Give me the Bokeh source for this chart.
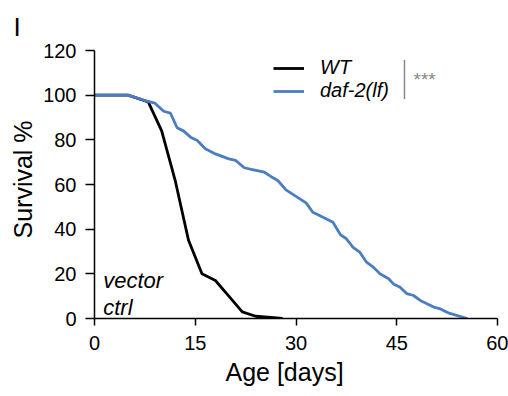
from bokeh.plotting import figure
from bokeh.models import Range1d, FixedTicker, Legend, LegendItem, Label, Title
from bokeh.embed import file_html
from bokeh.resources import INLINE

# ---- data ----
wt_days = [0, 5, 8, 10, 12, 14, 16, 18, 20, 22, 24, 28]
wt_surv = [100, 100, 97, 84, 62, 35, 20, 17, 10, 3, 1, 0]

daf_days = [0, 5, 7.5, 9, 10.3, 11.3, 12.3, 13.3, 14.3, 15.3, 16.5, 18, 20, 21,
            22.3, 23.5, 25.3, 26.3, 27.3, 28.5, 30, 31.5, 32.5, 33.5, 35.5, 36.6,
            37.5, 38.5, 39.5, 40.5, 41.5, 42.5, 43.8, 44.5, 45.5, 46.5, 47.5,
            48.5, 50.5, 51.5, 52.8, 55.5]
daf_surv = [100, 100, 97.6, 96.4, 92.8, 92, 85.4, 83.9, 81.2, 79.7, 76, 73.7,
            71.5, 70.8, 67.5, 66.7, 65.5, 63.5, 61.8, 57.6, 54.7, 51.8, 47.6,
            46.1, 43.1, 37.6, 35.7, 31.9, 29.7, 25.2, 23, 20, 17.8, 15.5, 14,
            11.1, 10.3, 8.1, 5.1, 4.3, 2.4, 0]

x_ticks = [0, 15, 30, 45, 60]
y_ticks = [0, 20, 40, 60, 80, 100, 120]
series_names = ["WT", "daf-2(lf)"]
series_colors = ["#000000", "#4A7EC0"]
FONT = "Liberation Sans"

p = figure(width=508, height=396, output_backend="svg", toolbar_location=None,
           x_range=Range1d(0, 60), y_range=Range1d(0, 120),
           min_border_left=94, min_border_right=11, min_border_top=50,
           min_border_bottom=78)
p.outline_line_color = None
p.xgrid.visible = False
p.ygrid.visible = False
p.background_fill_color = "white"
p.border_fill_color = "white"

for ax in (p.xaxis[0], p.yaxis[0]):
    ax.axis_line_width = 1.5
    ax.axis_line_color = "black"
    ax.major_tick_line_width = 1.5
    ax.major_tick_line_color = "black"
    ax.minor_tick_line_color = None
    ax.major_tick_in = 0
    ax.major_label_text_font = FONT
    ax.major_label_text_font_size = "20px"
    ax.major_label_text_color = "black"

p.xaxis.ticker = FixedTicker(ticks=x_ticks)
p.yaxis.ticker = FixedTicker(ticks=y_ticks)
p.xaxis.major_tick_out = 7
p.yaxis.major_tick_out = 9
p.xaxis.major_label_standoff = 10
p.yaxis.major_label_standoff = 9

# panel label
p.title.text = "I"
p.title.align = "left"
p.title.offset = -81
p.title.standoff = 18
p.title.text_font = FONT
p.title.text_font_size = "26px"
p.title.text_font_style = "normal"
p.title.text_color = "black"

# axis titles
p.add_layout(Title(text="Age [days]", align="left", offset=131, standoff=6,
                   text_font=FONT, text_font_size="25px",
                   text_font_style="normal", text_color="black"), "below")
p.add_layout(Title(text="Survival %", align="left", offset=80, standoff=8,
                   text_font=FONT, text_font_size="25px",
                   text_font_style="normal", text_color="black"), "left")

r_wt = p.line(wt_days, wt_surv, line_color=series_colors[0], line_width=2.8)
r_daf = p.line(daf_days, daf_surv, line_color=series_colors[1], line_width=2.8)

legend = Legend(items=[LegendItem(label=series_names[0], renderers=[r_wt]),
                       LegendItem(label=series_names[1], renderers=[r_daf])],
                location=(179, 216), orientation="vertical",
                glyph_width=31, glyph_height=20, label_height=20,
                spacing=-2, padding=0, margin=0, label_standoff=16,
                border_line_color=None, background_fill_alpha=0,
                label_text_font=FONT, label_text_font_size="20px",
                label_text_font_style="italic", label_text_color="black")
p.add_layout(legend)

# significance bracket
p.segment(x0=[46.15], y0=[98.3], x1=[46.15], y1=[115.8],
          line_color="#888888", line_width=1.5)
p.add_layout(Label(x=47.5, y=106.9, text="***", text_font=FONT,
                   text_font_size="19px", text_color="#888888",
                   text_baseline="alphabetic"))

p.add_layout(Label(x=1.3, y=16.9, text="vector", text_font=FONT,
                   text_font_size="22px", text_font_style="italic",
                   text_color="black", text_baseline="alphabetic"))
p.add_layout(Label(x=1.3, y=4.8, text="ctrl", text_font=FONT,
                   text_font_size="22px", text_font_style="italic",
                   text_color="black", text_baseline="alphabetic"))

open("out.html", "w").write(file_html(p, INLINE))
